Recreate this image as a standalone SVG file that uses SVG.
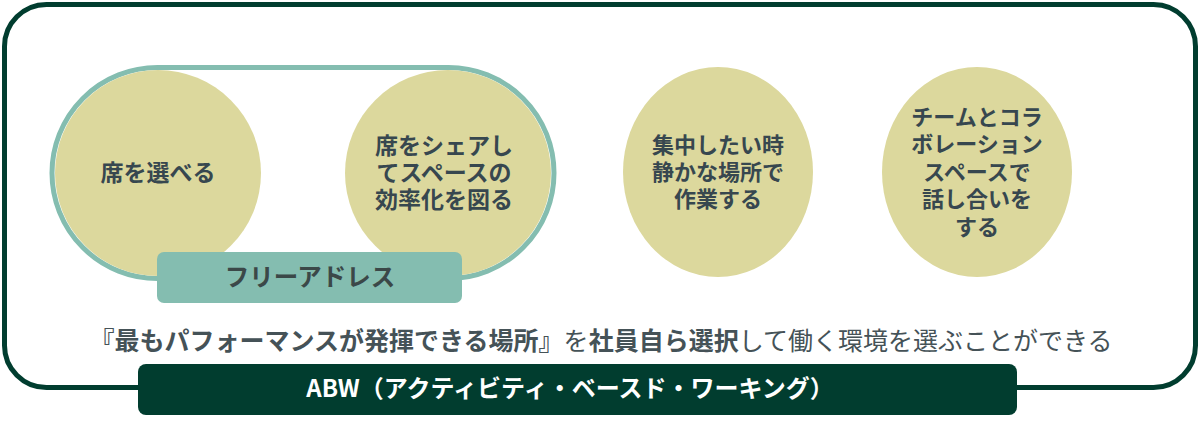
<svg xmlns="http://www.w3.org/2000/svg" width="1200" height="421" viewBox="0 0 1200 421">
<style>
.t{font-family:"Noto Sans CJK JP","Noto Sans",sans-serif;fill:#37474f;font-weight:700;font-size:23px;text-anchor:middle}
.s{font-size:22px}
.c{fill:#dcd89d}
</style>
<rect x="0" y="0" width="1200" height="421" fill="#ffffff"/>
<g id="frame">
<rect x="4.5" y="4.5" width="1191" height="383" rx="42" fill="none" stroke="#013d2f" stroke-width="5"/>
</g>
<g id="free-address-group">
<rect x="52" y="67.5" width="502" height="211" rx="105.5" fill="none" stroke="#84bdb0" stroke-width="5"/>
</g>
<g id="node1">
<circle class="c" cx="158" cy="173" r="103"/>
<text class="t" x="158" y="181">席を選べる</text>
</g>
<g id="node2">
<circle class="c" cx="448" cy="173" r="103"/>
<text class="t" x="444" y="154">席をシェアし</text>
<text class="t" x="444" y="181">てスペースの</text>
<text class="t" x="444" y="208">効率化を図る</text>
</g>
<g id="node3">
<ellipse class="c" cx="718" cy="172" rx="95" ry="105"/>
<text class="t s" x="718" y="153">集中したい時</text>
<text class="t s" x="718" y="180">静かな場所で</text>
<text class="t s" x="718" y="207">作業する</text>
</g>
<g id="node4">
<ellipse class="c" cx="977" cy="172" rx="95" ry="105"/>
<text class="t s" x="977" y="125">チームとコラ</text>
<text class="t s" x="977" y="152">ボレーション</text>
<text class="t s" x="977" y="180">スペースで</text>
<text class="t s" x="977" y="207">話し合いを</text>
<text class="t s" x="977" y="235">する</text>
</g>
<g id="free-address-label">
<rect x="157" y="252" width="305" height="51" rx="7" fill="#84bdb0"/>
<text class="t" x="310" y="286" style="font-size:24.5px;fill:#3b4848">フリーアドレス</text>
</g>
<g id="description">
<text x="601" y="350" style="font-family:'Noto Sans CJK JP','Noto Sans',sans-serif;font-size:25px;fill:#455257;text-anchor:middle"><tspan font-weight="700">『最もパフォーマンスが発揮できる場所』</tspan>を<tspan font-weight="700">社員自ら選択</tspan>して働く環境を選ぶことができる</text>
</g>
<g id="abw-label">
<rect x="138" y="364" width="879" height="51" rx="8" fill="#013d2f"/>
<text class="t" x="570" y="397" style="fill:#ffffff;font-size:24px">ABW（アクティビティ・ベースド・ワーキング）</text>
</g>
<g id="connectors"></g>
</svg>
